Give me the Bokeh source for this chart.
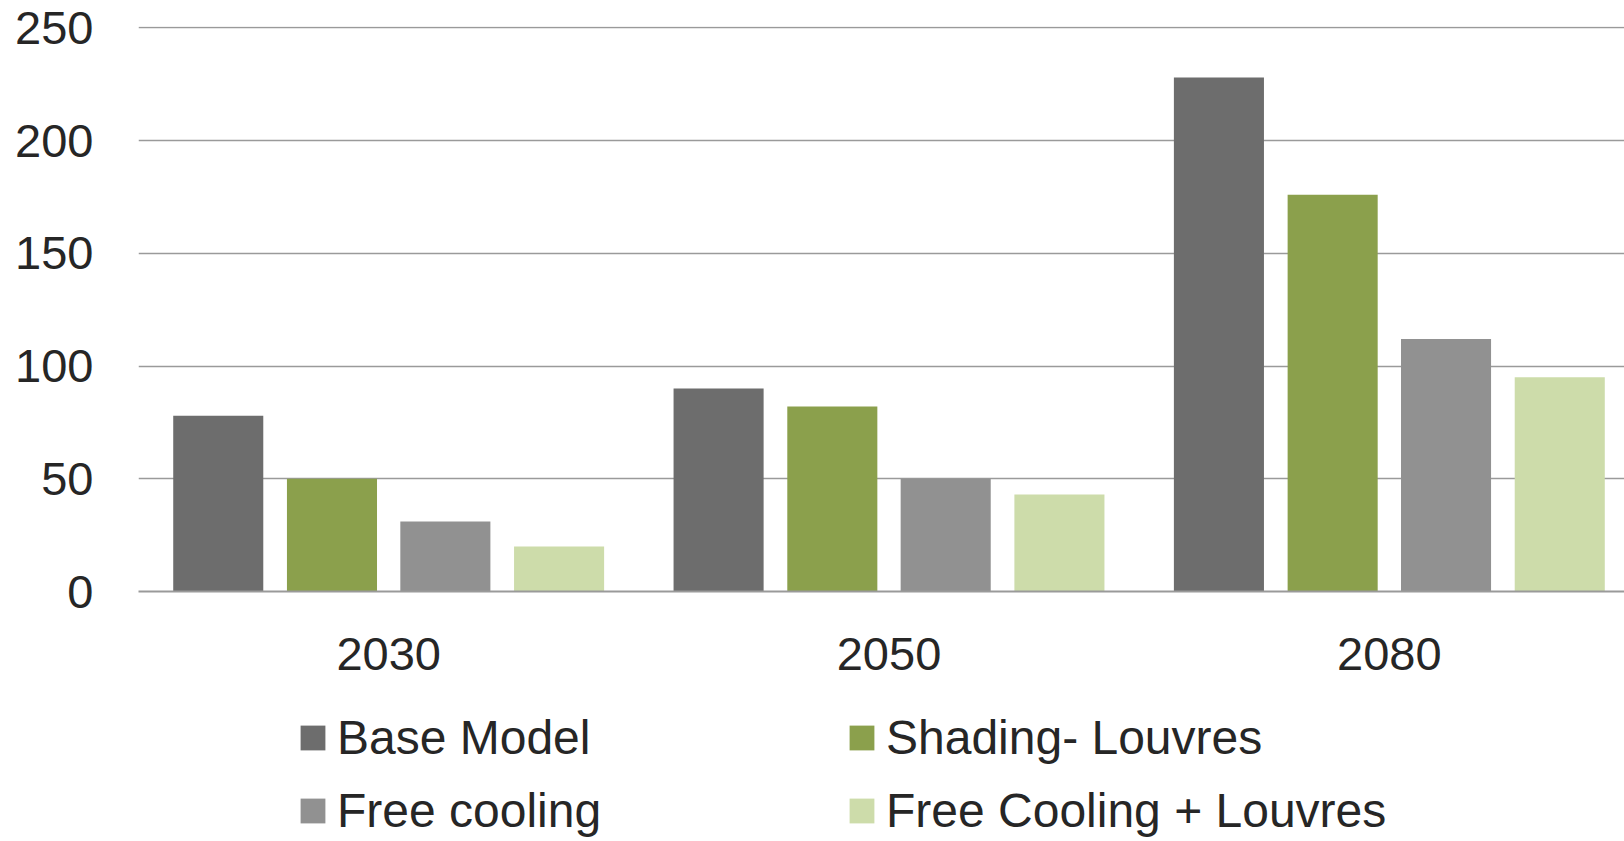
from bokeh.plotting import figure
from bokeh.layouts import column
from bokeh.models import ColumnDataSource, Range1d, FixedTicker, Legend, LegendItem
from bokeh.embed import file_html
from bokeh.resources import INLINE

years = ["2030", "2050", "2080"]
series = ["Base Model", "Shading- Louvres", "Free cooling", "Free Cooling + Louvres"]
base_model = [78, 90, 228]
shading_louvres = [50, 82, 176]
free_cooling = [31, 50, 112]
free_cooling_louvres = [20, 43, 95]
colors = ["#6d6d6d", "#8ba04c", "#919191", "#cddcaa"]
offsets = [-0.3406, -0.1133, 0.1133, 0.3406]
y_ticks = [0, 50, 100, 150, 200, 250]

FONT = "Liberation Sans"
TXT = "#262626"

p = figure(width=1624, height=700, output_backend="svg", toolbar_location=None,
           x_range=Range1d(0, 2.97), y_range=Range1d(0, 250.6),
           min_border_top=26, min_border_bottom=109, min_border_left=138,
           min_border_right=0)
p.outline_line_color = None
p.background_fill_color = "white"
p.border_fill_color = "white"

all_vals = [base_model, shading_louvres, free_cooling, free_cooling_louvres]
sources = []
for name, vals, col, off in zip(series, all_vals, colors, offsets):
    src = ColumnDataSource(dict(x=[i + 0.5 + off for i in range(len(years))], top=vals))
    sources.append(src)
    p.vbar(x="x", top="top", width=0.18, bottom=0, source=src,
           fill_color=col, line_color=None)

# axes
p.xaxis.ticker = FixedTicker(ticks=[i + 0.5 for i in range(len(years))])
p.xaxis.major_label_overrides = {i + 0.5: y for i, y in enumerate(years)}
p.xaxis.major_tick_line_color = None
p.xaxis.minor_tick_line_color = None
p.xaxis.major_tick_out = 0
p.xaxis.axis_line_color = "#9a9a9a"
p.xaxis.axis_line_width = 2
p.xaxis.major_label_text_font = FONT
p.xaxis.major_label_text_font_size = "47px"
p.xaxis.major_label_text_color = TXT
p.xaxis.major_label_standoff = 46

p.yaxis.ticker = FixedTicker(ticks=y_ticks)
p.yaxis.major_tick_line_color = None
p.yaxis.minor_tick_line_color = None
p.yaxis.major_tick_out = 0
p.yaxis.axis_line_color = None
p.yaxis.major_label_text_font = FONT
p.yaxis.major_label_text_font_size = "47px"
p.yaxis.major_label_text_color = TXT
p.yaxis.major_label_standoff = 45

p.xgrid.grid_line_color = None
p.ygrid.ticker = FixedTicker(ticks=y_ticks)
p.ygrid.grid_line_color = "#9a9a9a"
p.ygrid.grid_line_width = 1.6

# legend panel (aligned with the chart's frame by the column layout)
lf = figure(width=1624, height=141, output_backend="svg", toolbar_location=None,
            x_range=Range1d(0, 1), y_range=Range1d(0, 1),
            min_border=0, min_border_left=0, min_border_right=0,
            min_border_top=0, min_border_bottom=0)
lf.axis.visible = False
lf.grid.visible = False
lf.outline_line_color = None
lf.border_fill_color = "white"
leg_renderers = []
for src, col in zip(sources, colors):
    r = lf.vbar(x="x", top="top", width=0.18, source=src,
                fill_color=col, line_color=None, visible=False)
    leg_renderers.append(r)

# row-major order: Base Model, Shading- Louvres / Free cooling, Free Cooling + Louvres
order = [0, 2, 1, 3]
items = [LegendItem(label=series[i], renderers=[leg_renderers[i]]) for i in order]
legend = Legend(items=items, ncols=2, location=(159, 3),
                label_text_font=FONT, label_text_font_size="48px",
                label_text_color=TXT, glyph_width=31, glyph_height=31,
                label_standoff=9, label_width=491, spacing=18,
                padding=0, margin=0, border_line_color=None,
                background_fill_alpha=0, inactive_fill_alpha=0)
lf.add_layout(legend, "center")

layout = column(p, lf, spacing=0)
open("out.html", "w").write(file_html(layout, INLINE))
